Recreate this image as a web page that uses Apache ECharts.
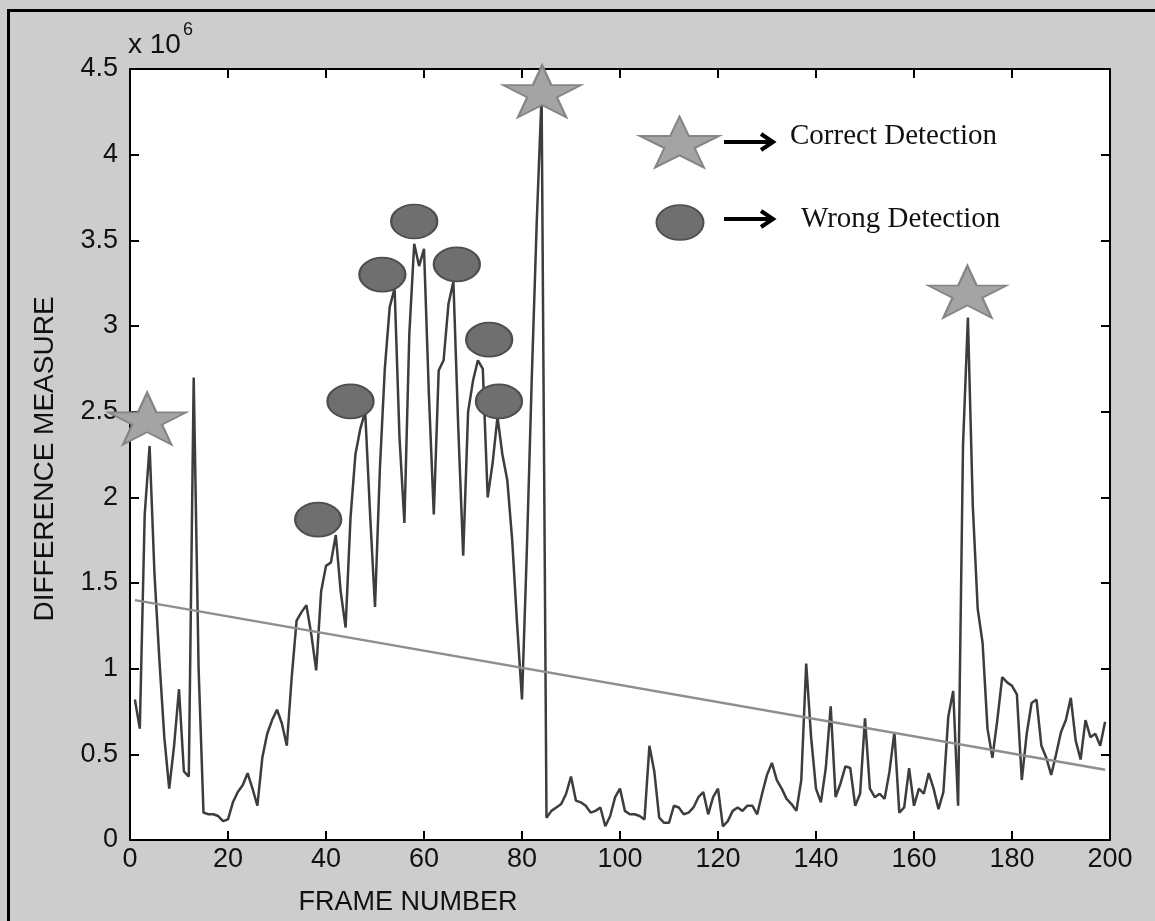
<!DOCTYPE html>
<html>
<head>
<meta charset="utf-8">
<script src="https://cdn.jsdelivr.net/npm/echarts@6/dist/echarts.min.js"></script>
<style>
  html, body { margin: 0; padding: 0; background: #cdcdcd; }
  #chart { width: 1155px; height: 921px; }
</style>
</head>
<body>
<div id="chart"></div>
<script>
// ---- data (difference measure in units of 10^6) ----
const firstFrame = 1;
const differenceValues = [
  0.82,0.65,1.9,2.3,1.55,1.05,0.6,0.3,0.55,0.88,
  0.4,0.37,2.7,1.0,0.16,0.15,0.15,0.14,0.11,0.12,
  0.22,0.28,0.32,0.39,0.3,0.2,0.48,0.62,0.7,0.76,
  0.68,0.55,0.95,1.28,1.33,1.37,1.2,0.99,1.45,1.6,
  1.62,1.78,1.45,1.24,1.88,2.25,2.4,2.5,1.9,1.36,
  2.17,2.75,3.11,3.22,2.35,1.85,2.95,3.48,3.35,3.45,
  2.6,1.9,2.74,2.8,3.13,3.26,2.4,1.66,2.5,2.68,
  2.8,2.75,2.0,2.2,2.47,2.25,2.1,1.75,1.26,0.82,
  1.7,2.7,3.6,4.35,0.13,0.17,0.19,0.21,0.27,0.37,
  0.23,0.22,0.2,0.16,0.17,0.19,0.08,0.14,0.25,0.3,
  0.17,0.15,0.15,0.14,0.12,0.55,0.4,0.13,0.1,0.1,
  0.2,0.19,0.15,0.16,0.19,0.25,0.28,0.15,0.25,0.3,
  0.08,0.11,0.17,0.19,0.17,0.2,0.2,0.15,0.27,0.38,
  0.45,0.35,0.3,0.24,0.21,0.17,0.35,1.03,0.6,0.3,
  0.22,0.42,0.78,0.25,0.33,0.43,0.42,0.2,0.27,0.71,
  0.3,0.25,0.27,0.24,0.4,0.63,0.16,0.19,0.42,0.2,
  0.3,0.27,0.39,0.3,0.18,0.28,0.72,0.87,0.2,2.3,
  3.05,1.95,1.35,1.15,0.65,0.48,0.7,0.95,0.92,0.9,
  0.85,0.35,0.62,0.8,0.82,0.55,0.48,0.38,0.5,0.63,
  0.7,0.83,0.58,0.47,0.7,0.6,0.62,0.55,0.69
];
const trendFrames = [1, 199];
const trendValues = [1.40, 0.41];
const correctFrames = [3.5, 84.1, 170.9];
const correctValues = [2.46, 4.37, 3.20];
const wrongFrames = [38.4, 45.0, 51.5, 58.0, 66.7, 73.3, 75.3];
const wrongValues = [1.87, 2.56, 3.30, 3.61, 3.36, 2.92, 2.56];
const xMin = 0, xMax = 200, xStep = 20;
const yMin = 0, yMax = 4.5, yStep = 0.5;
const yExponentLabel = 'x 10';
const yExponent = '6';
const xTitle = 'FRAME NUMBER';
const yTitle = 'DIFFERENCE MEASURE';
const legendNames = ['Correct Detection', 'Wrong Detection'];

// ---- build ----
const mainLine = differenceValues.map((v, i) => [firstFrame + i, v]);
const trendLine = trendFrames.map((f, i) => [f, trendValues[i]]);
const correctPts = correctFrames.map((f, i) => [f, correctValues[i]]);
const wrongPts = wrongFrames.map((f, i) => [f, wrongValues[i]]);

const starPath = 'path://M50 0 L61.2 34.5 L97.6 34.5 L68.2 55.9 L79.4 90.5 L50 69.1 L20.6 90.5 L31.8 55.9 L2.4 34.5 L38.8 34.5 Z';
const starRaw = [[50,0],[61.2,34.5],[97.6,34.5],[68.2,55.9],[79.4,90.5],[50,69.1],[20.6,90.5],[31.8,55.9],[2.4,34.5],[38.8,34.5]];
function starPoly(cx, cy, w, h) {
  return starRaw.map(p => [cx + (p[0] - 50) / 95.2 * w, cy + (p[1] - 45.25) / 90.5 * h]);
}

const font = '"Liberation Sans", Arial, sans-serif';
const serif = '"Liberation Serif", "Times New Roman", serif';
const axisLineStyle = { color: '#000', width: 2 };

const chart = echarts.init(document.getElementById('chart'));
const grid = { left: 130, top: 69, width: 980, height: 771 };

const xBase = { type: 'value', min: xMin, max: xMax, interval: xStep,
  axisLine: { show: true, onZero: false, lineStyle: axisLineStyle },
  axisTick: { show: true, inside: true, length: 9, lineStyle: { color: '#000', width: 2 } },
  splitLine: { show: false } };
const yBase = { type: 'value', min: yMin, max: yMax, interval: yStep,
  axisLine: { show: true, onZero: false, lineStyle: axisLineStyle },
  axisTick: { show: true, inside: true, length: 9, lineStyle: { color: '#000', width: 2 } },
  splitLine: { show: false } };

chart.setOption({
  animation: false,
  backgroundColor: '#cdcdcd',
  grid: Object.assign({ backgroundColor: '#ffffff', show: true, borderWidth: 0 }, grid),
  xAxis: [
    Object.assign({}, xBase, { position: 'bottom',
      axisLabel: { color: '#111', fontFamily: font, fontSize: 27, margin: 6 } }),
    Object.assign({}, xBase, { position: 'top', axisLabel: { show: false } })
  ],
  yAxis: [
    Object.assign({}, yBase, { position: 'left',
      axisLabel: { color: '#111', fontFamily: font, fontSize: 27, margin: 12 } }),
    Object.assign({}, yBase, { position: 'right', axisLabel: { show: false } })
  ],
  series: [
    { type: 'line', name: 'Difference', data: mainLine, symbol: 'none',
      lineStyle: { color: '#3d3d3d', width: 2.5 }, z: 2 },
    { type: 'line', name: 'Trend', data: trendLine, symbol: 'none',
      lineStyle: { color: '#8e8e8e', width: 2.5 }, z: 3 },
    { type: 'scatter', name: legendNames[0], data: correctPts, symbol: starPath,
      symbolSize: [78, 52], itemStyle: { color: '#a4a4a4', borderColor: '#858585', borderWidth: 2, opacity: 1 }, z: 5 },
    { type: 'scatter', name: legendNames[1], data: wrongPts, symbol: 'circle',
      symbolSize: [46, 34], itemStyle: { color: '#6f6f6f', borderColor: '#4e4e4e', borderWidth: 2, opacity: 1 }, z: 5 }
  ],
  graphic: [
    { type: 'rect', shape: { x: 8.5, y: 10.5, width: 1200, height: 1000 },
      style: { fill: 'none', stroke: '#000', lineWidth: 3 }, silent: true, z: 100 },
    { type: 'text', x: 45, y: 459, rotation: Math.PI / 2,
      style: { text: yTitle, fontFamily: font, fontSize: 28, fill: '#111', align: 'center', verticalAlign: 'middle' } },
    { type: 'text', x: 408, y: 903,
      style: { text: xTitle, fontFamily: font, fontSize: 27, fill: '#111', align: 'center', verticalAlign: 'middle' } },
    { type: 'text', x: 128, y: 45,
      style: { text: yExponentLabel, fontFamily: font, fontSize: 28, fill: '#111', align: 'left', verticalAlign: 'middle' } },
    { type: 'text', x: 183, y: 30,
      style: { text: yExponent, fontFamily: font, fontSize: 18, fill: '#111', align: 'left', verticalAlign: 'middle' } },
    // legend
    { type: 'polygon', shape: { points: starPoly(679.5, 142, 79, 51) },
      style: { fill: '#a4a4a4', stroke: '#858585', lineWidth: 2 }, z: 50 },
    { type: 'circle', x: 680, y: 222.5, scaleY: 35 / 47, shape: { cx: 0, cy: 0, r: 23.5 },
      style: { fill: '#6f6f6f', stroke: '#4e4e4e', lineWidth: 2 }, z: 50 },
    { type: 'line', shape: { x1: 724, y1: 142, x2: 772, y2: 142 }, style: { stroke: '#000', lineWidth: 4 }, z: 50 },
    { type: 'polyline', shape: { points: [[761, 134], [773, 142], [761, 150]] }, style: { stroke: '#000', lineWidth: 4, fill: 'none' }, z: 50 },
    { type: 'line', shape: { x1: 724, y1: 219, x2: 772, y2: 219 }, style: { stroke: '#000', lineWidth: 4 }, z: 50 },
    { type: 'polyline', shape: { points: [[761, 211], [773, 219], [761, 227]] }, style: { stroke: '#000', lineWidth: 4, fill: 'none' }, z: 50 },
    { type: 'text', x: 790, y: 136,
      style: { text: legendNames[0], fontFamily: serif, fontSize: 29, fill: '#111', align: 'left', verticalAlign: 'middle' }, z: 50 },
    { type: 'text', x: 801, y: 219,
      style: { text: legendNames[1], fontFamily: serif, fontSize: 29, fill: '#111', align: 'left', verticalAlign: 'middle' }, z: 50 }
  ]
});
</script>
</body>
</html>
